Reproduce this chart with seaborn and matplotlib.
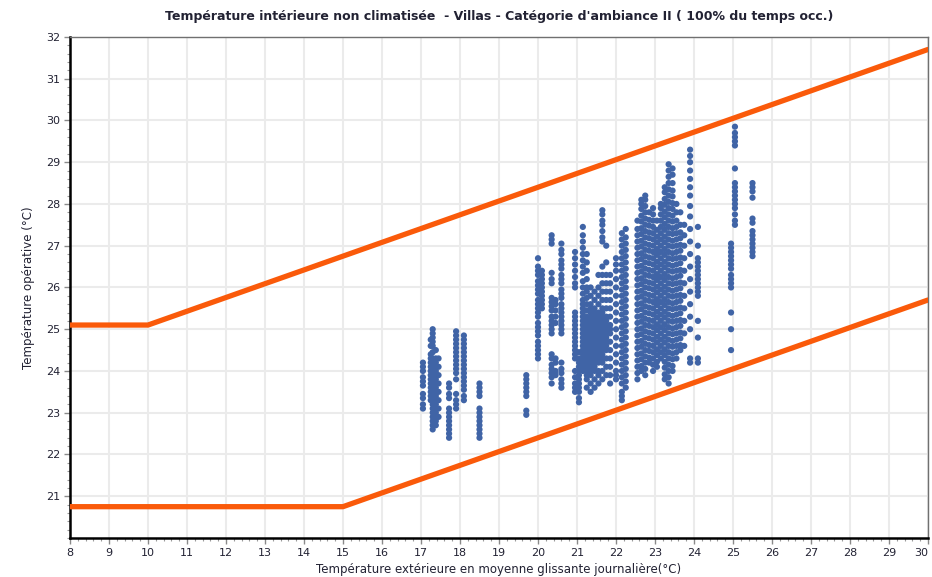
import pandas as pd
import seaborn as sns
import matplotlib.pyplot as plt
from matplotlib.ticker import MultipleLocator

sns.set_theme(style="whitegrid")
plt.rcParams['font.family'] = ['DejaVu Sans']

# Comfort band, category II (adaptive model): upper and lower limits
upper_x = [8, 10, 30]
upper_y = [25.1, 25.1, 31.7]
lower_x = [8, 15, 30]
lower_y = [20.75, 20.75, 25.7]

# Hourly operative temperatures grouped by daily running-mean outdoor temperature
col_x = [17.05, 17.25, 17.3, 17.38, 17.45, 17.72, 17.9, 18.1, 18.5,
         19.7, 20.0, 20.1, 20.35, 20.45, 20.6, 20.95, 21.05, 21.15, 21.25,
         21.35, 21.45, 21.55, 21.65, 21.75, 21.85, 22.0, 22.15, 22.25,
         22.55, 22.65, 22.75, 22.85, 22.95, 23.05, 23.15, 23.25, 23.35,
         23.45, 23.55, 23.65, 23.75,
         23.9, 24.1, 24.95, 25.05, 25.5]
col_y = [
    [23.1, 23.2, 23.35, 23.45, 23.65, 23.75, 23.85, 24.0, 24.1, 24.2],
    [23.3, 23.4, 23.5, 23.6, 23.7, 23.8, 23.9, 24.0, 24.1, 24.2, 24.3, 24.4, 24.6, 24.75],
    [22.6, 22.7, 22.8, 22.9, 23.0, 23.1, 23.2, 23.3, 23.4, 23.5, 23.6, 23.7, 23.8,
     23.9, 24.0, 24.1, 24.2, 24.3, 24.45, 24.6, 24.7, 24.8, 24.9, 25.0],
    [22.7, 22.8, 22.9, 23.0, 23.1, 23.2, 23.3, 23.4, 23.5, 23.6, 23.7, 23.8, 23.9,
     24.0, 24.1, 24.2, 24.3, 24.5],
    [22.9, 23.1, 23.3, 23.5, 23.7, 23.9, 24.1, 24.3],
    [22.4, 22.5, 22.6, 22.7, 22.8, 22.9, 23.0, 23.1, 23.35, 23.45, 23.6, 23.7],
    [23.1, 23.2, 23.3, 23.45, 23.8, 23.95, 24.05, 24.15, 24.25, 24.35, 24.45, 24.55,
     24.65, 24.75, 24.85, 24.95],
    [23.3, 23.4, 23.55, 23.65, 23.75, 23.85, 23.95, 24.05, 24.15, 24.25, 24.35, 24.45,
     24.55, 24.65, 24.75, 24.85],
    [22.4, 22.5, 22.6, 22.7, 22.8, 22.9, 23.0, 23.1, 23.4, 23.5, 23.6, 23.7],
    [22.95, 23.05, 23.4, 23.5, 23.6, 23.7, 23.8, 23.9],
    [24.3, 24.4, 24.5, 24.6, 24.7, 24.85, 24.95, 25.05, 25.15, 25.3, 25.4, 25.5, 25.6,
     25.7, 25.85, 25.95, 26.05, 26.15, 26.3, 26.4, 26.5, 26.7],
    [25.5, 25.6, 25.7, 25.8, 25.9, 26.0, 26.1, 26.2, 26.3, 26.4],
    [23.7, 23.85, 23.95, 24.05, 24.15, 24.3, 24.4, 24.9, 25.0, 25.1, 25.2, 25.3, 25.45,
     25.55, 25.65, 25.75, 26.1, 26.2, 26.35, 27.05, 27.15, 27.25],
    [23.9, 24.0, 24.2, 24.3, 25.15, 25.3, 25.45, 25.6, 25.7],
    [23.6, 23.7, 23.8, 23.95, 24.05, 24.2, 24.9, 25.0, 25.1, 25.2, 25.3, 25.4, 25.5,
     25.6, 25.75, 25.85, 25.95, 26.1, 26.2, 26.3, 26.45, 26.55, 26.65, 26.8, 26.9, 27.05],
    [23.5, 23.6, 23.7, 23.85, 24.0, 24.3, 24.4, 24.5, 24.6, 24.7, 24.8, 24.9, 25.0,
     25.1, 25.2, 25.3, 25.4, 26.0, 26.1, 26.25, 26.4, 26.55, 26.7, 26.85],
    [23.25, 23.35, 23.5, 23.6, 23.7, 23.8, 23.9, 24.0, 24.1, 24.2, 24.3, 24.45],
    [24.0, 24.1, 24.2, 24.3, 24.4, 24.5, 24.6, 24.7, 24.8, 24.9, 25.0, 25.1, 25.2, 25.3,
     25.4, 25.5, 25.6, 25.7, 25.85, 26.0, 26.15, 26.35, 26.5, 26.65, 26.8, 26.95, 27.1,
     27.25, 27.45],
    [23.6, 23.8, 23.9, 24.0, 24.1, 24.2, 24.3, 24.4, 24.5, 24.6, 24.7, 24.8, 24.9, 25.0,
     25.1, 25.2, 25.3, 25.45, 25.6, 25.75, 25.9, 26.0, 26.2, 26.4, 26.6, 26.8],
    [23.5, 23.7, 23.9, 24.0, 24.1, 24.2, 24.3, 24.4, 24.5, 24.6, 24.7, 24.8, 24.9, 25.0,
     25.1, 25.2, 25.3, 25.4, 25.5, 25.6, 25.8, 26.0],
    [23.6, 23.8, 24.0, 24.1, 24.2, 24.3, 24.4, 24.5, 24.6, 24.7, 24.8, 24.9, 25.0, 25.1,
     25.2, 25.3, 25.4, 25.5, 25.7, 25.9],
    [23.7, 23.9, 24.0, 24.2, 24.3, 24.4, 24.5, 24.6, 24.7, 24.8, 24.9, 25.0, 25.1, 25.2,
     25.3, 25.4, 25.6, 25.8, 26.0, 26.3],
    [23.8, 24.0, 24.2, 24.3, 24.4, 24.5, 24.6, 24.7, 24.8, 24.9, 25.0, 25.1, 25.2, 25.3,
     25.4, 25.5, 25.7, 25.9, 26.1, 26.3, 26.5, 27.1, 27.2, 27.35, 27.5, 27.6, 27.75, 27.85],
    [23.9, 24.1, 24.3, 24.5, 24.6, 24.7, 24.8, 24.9, 25.0, 25.1, 25.2, 25.3, 25.5, 25.7,
     25.9, 26.1, 26.3, 26.6, 27.0],
    [23.7, 23.9, 24.1, 24.3, 24.5, 24.7, 24.9, 25.0, 25.1, 25.3, 25.5, 25.7, 25.9, 26.1,
     26.3],
    [23.8, 23.9, 24.0, 24.2, 24.4, 24.6, 24.8, 25.0, 25.2, 25.4, 25.6, 25.8, 26.0, 26.2,
     26.4, 26.55, 26.7],
    [23.3, 23.4, 23.5, 23.7, 23.85, 24.0, 24.15, 24.3, 24.45, 24.6, 24.75, 24.9, 25.05,
     25.2, 25.35, 25.5, 25.65, 25.8, 25.95, 26.1, 26.25, 26.4, 26.55, 26.7, 26.85, 27.0,
     27.15, 27.3],
    [23.6, 23.75, 23.9, 24.05, 24.2, 24.35, 24.5, 24.65, 24.8, 24.95, 25.1, 25.25, 25.4,
     25.55, 25.7, 25.85, 26.0, 26.15, 26.3, 26.45, 26.6, 26.75, 26.9, 27.05, 27.2, 27.4],
    # dense block 22.5 - 23.8
    [23.8, 23.95, 24.1, 24.25, 24.4, 24.55, 24.7, 24.85, 25.0, 25.15, 25.3, 25.45,
     25.6, 25.75, 25.9, 26.05, 26.2, 26.35, 26.5, 26.65, 26.8, 26.95, 27.1, 27.25,
     27.4, 27.6],
    [24.0, 24.12, 24.28, 24.42, 24.58, 24.72, 24.88, 25.02, 25.18, 25.32, 25.48, 25.62,
     25.78, 25.92, 26.08, 26.22, 26.38, 26.52, 26.68, 26.82, 26.98, 27.12, 27.28, 27.42,
     27.58, 27.72, 27.88, 28.0, 28.1],
    [23.9, 24.05, 24.2, 24.35, 24.5, 24.65, 24.8, 24.95, 25.1, 25.25, 25.4, 25.55,
     25.7, 25.85, 26.0, 26.15, 26.3, 26.45, 26.6, 26.75, 26.9, 27.05, 27.2, 27.35,
     27.5, 27.65, 27.8, 27.95, 28.1, 28.2],
    [24.2, 24.32, 24.48, 24.62, 24.78, 24.92, 25.08, 25.22, 25.38, 25.52, 25.68, 25.82,
     25.98, 26.12, 26.28, 26.42, 26.58, 26.72, 26.88, 27.02, 27.18, 27.32, 27.48, 27.62,
     27.8],
    [24.0, 24.15, 24.3, 24.45, 24.6, 24.75, 24.9, 25.05, 25.2, 25.35, 25.5, 25.65,
     25.8, 25.95, 26.1, 26.25, 26.4, 26.55, 26.7, 26.85, 27.0, 27.15, 27.3, 27.45,
     27.6, 27.75, 27.9],
    [24.1, 24.22, 24.38, 24.52, 24.68, 24.82, 24.98, 25.12, 25.28, 25.42, 25.58, 25.72,
     25.88, 26.02, 26.18, 26.32, 26.48, 26.62, 26.78, 26.92, 27.08, 27.22, 27.38, 27.6],
    [24.3, 24.45, 24.6, 24.75, 24.9, 25.05, 25.2, 25.35, 25.5, 25.65, 25.8, 25.95,
     26.1, 26.25, 26.4, 26.55, 26.7, 26.85, 27.0, 27.15, 27.3, 27.45, 27.6, 27.75,
     27.9, 28.0],
    [23.8, 23.92, 24.08, 24.22, 24.38, 24.52, 24.68, 24.82, 24.98, 25.12, 25.28, 25.42,
     25.58, 25.72, 25.88, 26.02, 26.18, 26.32, 26.48, 26.62, 26.78, 26.92, 27.08, 27.22,
     27.38, 27.52, 27.68, 27.82, 27.98, 28.12, 28.28, 28.4],
    [23.7, 23.85, 24.0, 24.15, 24.3, 24.45, 24.6, 24.75, 24.9, 25.05, 25.2, 25.35,
     25.5, 25.65, 25.8, 25.95, 26.1, 26.25, 26.4, 26.55, 26.7, 26.85, 27.0, 27.15,
     27.3, 27.45, 27.6, 27.75, 27.9, 28.05, 28.2, 28.35, 28.5, 28.65, 28.8, 28.95],
    [24.0, 24.12, 24.28, 24.42, 24.58, 24.72, 24.88, 25.02, 25.18, 25.32, 25.48, 25.62,
     25.78, 25.92, 26.08, 26.22, 26.38, 26.52, 26.68, 26.82, 26.98, 27.12, 27.28, 27.42,
     27.58, 27.72, 27.88, 28.02, 28.18, 28.32, 28.5, 28.7, 28.85],
    [24.3, 24.45, 24.6, 24.75, 24.9, 25.05, 25.2, 25.35, 25.5, 25.65, 25.8, 25.95,
     26.1, 26.25, 26.4, 26.55, 26.7, 26.85, 27.0, 27.15, 27.3, 27.45, 27.6, 27.8, 28.0],
    [24.5, 24.62, 24.78, 24.92, 25.08, 25.22, 25.38, 25.52, 25.68, 25.82, 25.98, 26.12,
     26.28, 26.42, 26.58, 26.72, 26.88, 27.02, 27.18, 27.32, 27.5, 27.8],
    [24.6, 24.9, 25.2, 25.5, 25.8, 26.1, 26.4, 26.7, 27.0, 27.25, 27.5],
    # sparser columns above 23.8
    [24.2, 24.3, 25.0, 25.3, 25.6, 25.9, 26.2, 26.5, 26.8, 27.1, 27.4, 27.7, 27.95, 28.2,
     28.4, 28.6, 28.8, 29.0, 29.15, 29.3],
    [24.2, 24.3, 24.8, 25.2, 25.8, 25.9, 26.0, 26.1, 26.2, 26.3, 26.4, 26.5, 26.6, 26.7,
     27.0, 27.45],
    [24.5, 25.0, 25.4, 26.0, 26.1, 26.2, 26.3, 26.45, 26.55, 26.65, 26.75, 26.85, 26.95,
     27.05],
    [27.5, 27.6, 27.75, 27.9, 28.0, 28.1, 28.2, 28.3, 28.4, 28.5, 28.85, 29.4, 29.5,
     29.6, 29.7, 29.85],
    [26.75, 26.85, 26.95, 27.05, 27.15, 27.25, 27.35, 27.55, 27.65, 28.15, 28.3, 28.4,
     28.5],
]

rows = [(x, y) for x, ys in zip(col_x, col_y) for y in ys]
df = pd.DataFrame(rows, columns=["t_ext", "t_op"])

fig, ax = plt.subplots(figsize=(9.32, 5.77), dpi=100)
fig.subplots_adjust(left=0.0751, right=0.9957, top=0.936, bottom=0.0676)

sns.scatterplot(data=df, x="t_ext", y="t_op", ax=ax, s=20, color="#4064A6",
                linewidth=0, edgecolor="none", zorder=3)

band_color = "#FA5A0A"
sns.lineplot(x=upper_x, y=upper_y, ax=ax, color=band_color, linewidth=3.8,
             sort=False, zorder=4)
sns.lineplot(x=lower_x, y=lower_y, ax=ax, color=band_color, linewidth=3.8,
             sort=False, zorder=4)

ax.set_xlim(8, 30)
ax.set_ylim(20, 32)
ax.xaxis.set_major_locator(MultipleLocator(1))
ax.xaxis.set_minor_locator(MultipleLocator(0.2))
ax.yaxis.set_minor_locator(MultipleLocator(0.2))
ax.set_yticks(range(21, 33))

ax.grid(True, which="major", color="#EBEBEB", linewidth=1.5)
ax.grid(False, which="minor")
ax.set_facecolor("white")

for side in ("left", "bottom"):
    ax.spines[side].set_color("black")
    ax.spines[side].set_linewidth(1.8)
for side in ("top", "right"):
    ax.spines[side].set_color("#707070")
    ax.spines[side].set_linewidth(1.0)

ax.tick_params(axis="both", which="major", length=4, width=1, color="#8A8A8A",
               labelsize=8, labelcolor="#222233", pad=3, direction="out",
               bottom=True, left=True)
ax.tick_params(axis="both", which="minor", length=2, width=0.8, color="#9A9A9A",
               direction="out", bottom=True, left=True)

# The last x tick label sits on the figure edge; keep it inside the canvas
ticks_x = list(range(8, 31))
ax.set_xticks(ticks_x)
ax.set_xticklabels([str(t) for t in ticks_x])
ax.get_xticklabels()[-1].set_horizontalalignment("right")

ax.set_xlabel("Température extérieure en moyenne glissante journalière(°C)",
              fontsize=8.5, color="#222233", labelpad=4)
ax.set_ylabel("Température opérative (°C)", fontsize=8.5, color="#222233",
              labelpad=8)
ax.set_title("Température intérieure non climatisée  - Villas - Catégorie d'ambiance II ( 100% du temps occ.)",
             fontsize=9, fontweight="bold", color="#222233", pad=12)

fig.savefig("out.png", dpi=100)
